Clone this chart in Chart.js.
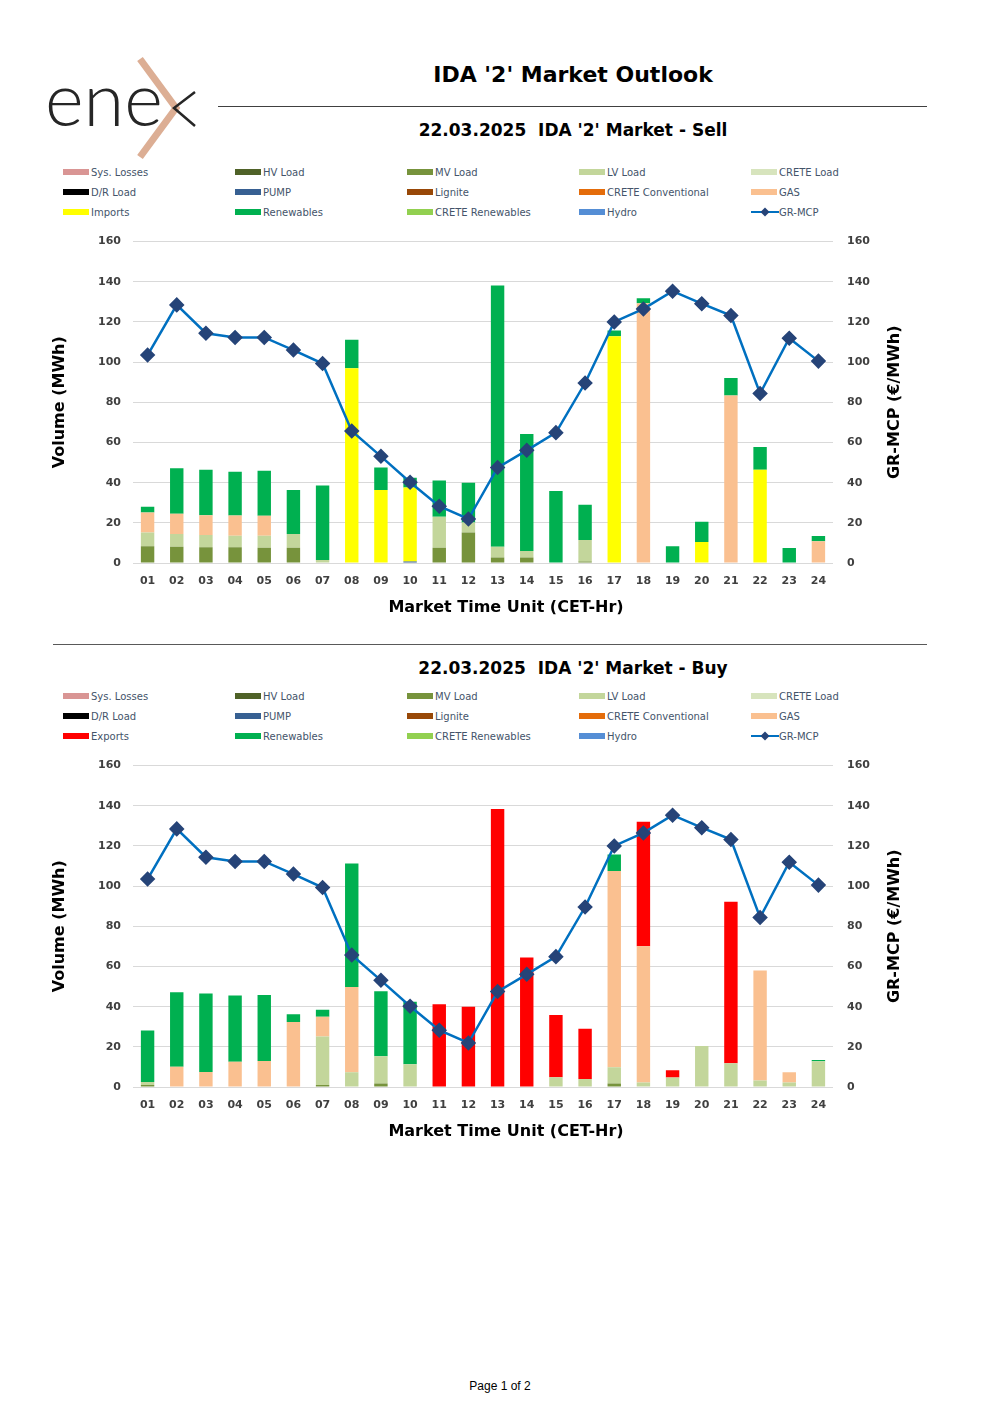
<!DOCTYPE html>
<html>
<head>
<meta charset="utf-8">
<script src="https://cdn.jsdelivr.net/npm/chart.js@4"></script>
<style>
  body { margin: 0; background: #fff; }
  #page { position: relative; width: 1000px; height: 1415px; background: #fff; overflow: hidden; font-family: "DejaVu Sans", sans-serif; }
  .abs { position: absolute; }
  .title { left: 218px; width: 710px; text-align: center; font-weight: bold; color: #000; }
  .rule { position: absolute; height: 0; }
  .legend { position: absolute; left: 0; width: 1000px; }
  .lg-item { position: absolute; height: 14px; line-height: 14px; font-size: 10px; color: #44546a; font-family: "DejaVu Sans", sans-serif; white-space: nowrap; }
  .lg-item span.sw { display: inline-block; width: 26px; height: 6px; vertical-align: middle; margin-right: 2px; position: relative; top: -1px; }
  canvas { position: absolute; left: 0; }
</style>
</head>
<body>
<div id="page">
  <svg class="abs" style="left:40px;top:50px" width="180" height="115">
    <text x="5" y="76" font-family="Lato" font-weight="300" font-size="74" fill="#262626">ene</text>
    <polyline points="100,9 136,58 100,107" fill="none" stroke="#dcae94" stroke-width="7" stroke-linejoin="miter"/>
    <polyline points="155,42 134,58 155,76" fill="none" stroke="#262626" stroke-width="2.5"/>
  </svg>

  <div class="abs title" style="top:62px;font-size:22px">IDA '2' Market Outlook</div>
  <div class="rule" style="left:218px;top:106px;width:709px;border-top:1px solid #404040"></div>
  <div class="abs title" style="top:120px;font-size:17px">22.03.2025&nbsp;&nbsp;IDA '2' Market - Sell</div>
  <div class="legend" id="legendSell" style="top:166px"></div>
  <canvas id="sellChart" style="top:221px" width="1000" height="400"></canvas>

  <div class="rule" style="left:53px;top:644px;width:874px;border-top:1.5px solid #595959"></div>
  <div class="abs title" style="top:658px;font-size:17px">22.03.2025&nbsp;&nbsp;IDA '2' Market - Buy</div>
  <div class="legend" id="legendBuy" style="top:690px"></div>
  <canvas id="buyChart" style="top:745px" width="1000" height="400"></canvas>

  <div class="abs" style="left:0;width:1000px;top:1379px;text-align:center;font-family:'Liberation Sans',Arial,sans-serif;font-size:12px;color:#000">Page 1 of 2</div>
</div>

<script>
// market time units
var hours = ['01','02','03','04','05','06','07','08','09','10','11','12','13','14','15','16','17','18','19','20','21','22','23','24'];

// GR-MCP (€/MWh), same for both charts
var mcp = [103.5, 128.5, 114.4, 112.3, 112.3, 106.0, 99.3, 65.7, 53.1, 40.2, 28.3, 21.9,
           47.5, 56.1, 64.9, 89.6, 120.0, 126.5, 135.3, 129.1, 123.2, 84.4, 111.9, 100.5];

var zeros = [0,0,0,0,0,0,0,0,0,0,0,0,0,0,0,0,0,0,0,0,0,0,0,0];

// Sell side (MWh)
var sellMV = [8.3, 8.1, 7.9, 7.9, 7.6, 7.6, 0, 0, 0, 0, 7.6, 15.2, 2.8, 2.8, 0, 0.7, 0, 0, 0, 0, 0, 0, 0, 0];
var sellLV = [6.9, 6.3, 6.0, 5.7, 6.0, 6.8, 1.5, 0, 0, 0, 15.4, 5.0, 5.3, 3.2, 0, 10.7, 0, 0, 0, 0, 0, 0, 0, 0];
var sellPump = [0, 0, 0, 0, 0, 0, 0, 0, 0, 0.8, 0, 0, 0, 0, 0, 0, 0, 0, 0, 0, 0, 0, 0, 0];
var sellGas = [10.0, 10.1, 9.9, 10.1, 9.9, 0, 0, 0, 0, 0, 0, 0, 0, 0, 0, 0, 0, 129.3, 0, 0, 83.4, 0, 0, 10.8];
var sellImports = [0, 0, 0, 0, 0, 0, 0, 97.0, 36.3, 36.8, 0, 0, 0, 0, 0, 0, 112.9, 0, 0, 10.4, 0, 46.4, 0, 0];
var sellRen = [2.8, 22.7, 22.6, 21.7, 22.4, 21.9, 37.1, 14.1, 11.2, 4.8, 18.1, 19.7,
               130.0, 58.2, 35.9, 17.6, 2.8, 2.5, 8.4, 10.1, 8.7, 11.4, 7.5, 2.6];

// Buy side (MWh)
var buyMV = [1.0, 0, 0, 0, 0, 0, 1.0, 0, 1.8, 0, 0, 0, 0, 0, 0, 0, 1.8, 0, 0, 0, 0, 0, 0, 0];
var buyLV = [1.5, 0, 0, 0, 0, 0, 24.2, 7.3, 13.5, 11.3, 0, 0, 0, 0, 4.8, 4.0, 8.0, 2.3, 4.7, 20.4, 11.8, 3.2, 2.3, 12.8];
var buyGas = [0, 10.1, 7.5, 12.6, 13.0, 32.4, 9.8, 42.5, 0, 0, 0, 0, 0, 0, 0, 0, 97.7, 67.8, 0, 0, 0, 54.8, 5.0, 0];
var buyExports = [0, 0, 0, 0, 0, 0, 0, 0, 0, 0, 41.2, 40.0, 138.4, 64.5, 31.1, 25.0, 0, 62.0, 3.6, 0, 80.4, 0, 0, 0];
var buyRen = [25.6, 37.1, 39.0, 32.9, 32.8, 3.8, 3.5, 61.5, 32.4, 31.1, 0, 0, 0, 0, 0, 0, 8.3, 0, 0, 0, 0, 0, 0, 0.7];

var COLORS = {
    'Sys. Losses': '#d99594',
    'HV Load': '#4f6228',
    'MV Load': '#77933c',
    'LV Load': '#c3d69b',
    'CRETE Load': '#d7e4bd',
    'D/R Load': '#000000',
    'PUMP': '#376092',
    'Lignite': '#984807',
    'CRETE Conventional': '#e46c0a',
    'GAS': '#fac090',
    'Imports': '#ffff00',
    'Exports': '#ff0000',
    'Renewables': '#00b050',
    'CRETE Renewables': '#92d050',
    'Hydro': '#558ed5'
};
var LINE_COLOR = '#0070c0';
var MARKER_COLOR = '#264478';

var sellSeries = [
    ['Sys. Losses', zeros], ['HV Load', zeros], ['MV Load', sellMV], ['LV Load', sellLV], ['CRETE Load', zeros],
    ['D/R Load', zeros], ['PUMP', sellPump], ['Lignite', zeros], ['CRETE Conventional', zeros], ['GAS', sellGas],
    ['Imports', sellImports], ['Renewables', sellRen], ['CRETE Renewables', zeros], ['Hydro', zeros]
];
var buySeries = [
    ['Sys. Losses', zeros], ['HV Load', zeros], ['MV Load', buyMV], ['LV Load', buyLV], ['CRETE Load', zeros],
    ['D/R Load', zeros], ['PUMP', zeros], ['Lignite', zeros], ['CRETE Conventional', zeros], ['GAS', buyGas],
    ['Exports', buyExports], ['Renewables', buyRen], ['CRETE Renewables', zeros], ['Hydro', zeros]
];

function buildLegend(el, series) {
    var colX = [63, 235, 407, 579, 751];
    var items = series.map(s => ({ name: s[0], color: COLORS[s[0]] }));
    items.push({ name: 'GR-MCP', line: true });
    items.forEach((it, i) => {
        var d = document.createElement('div');
        d.className = 'lg-item';
        d.style.left = colX[i % 5] + 'px';
        d.style.top = (Math.floor(i / 5) * 20) + 'px';
        if (it.line) {
            d.innerHTML = '<svg width="28" height="10" style="vertical-align:middle;position:relative;top:-1px">' +
                '<line x1="0" y1="5" x2="28" y2="5" stroke="' + LINE_COLOR + '" stroke-width="2"/>' +
                '<polygon points="14,0.5 18.5,5 14,9.5 9.5,5" fill="' + MARKER_COLOR + '"/></svg>' + it.name;
        } else {
            d.innerHTML = '<span class="sw" style="background:' + it.color + '"></span>' + it.name;
        }
        el.appendChild(d);
    });
}

// right axis title reads bottom-to-top, and the x title sits a bit right of the plot centre
var axisTitles = {
    id: 'axisTitles',
    afterDraw(chart) {
        var s = chart.scales.y1;
        var ctx = chart.ctx;
        ctx.save();
        ctx.fillStyle = '#000';
        ctx.font = 'bold 16px "DejaVu Sans"';
        ctx.textAlign = 'center';
        ctx.textBaseline = 'middle';
        ctx.fillText('Market Time Unit (CET-Hr)', 506, chart.chartArea.bottom + 45);
        ctx.translate(s.right - 14, (chart.chartArea.top + chart.chartArea.bottom) / 2);
        ctx.rotate(-Math.PI / 2);
        ctx.fillText('GR-MCP (€/MWh)', 0, 0);
        ctx.restore();
    }
};

function createChart(canvas, series) {
    var datasets = series.map(s => ({
        type: 'bar',
        label: s[0],
        data: s[1],
        backgroundColor: COLORS[s[0]],
        borderWidth: 0,
        stack: 'vol',
        yAxisID: 'y',
        order: 1,
        categoryPercentage: 1,
        barPercentage: 0.46
    }));
    datasets.push({
        type: 'line',
        label: 'GR-MCP',
        data: mcp,
        borderColor: LINE_COLOR,
        borderWidth: 2.5,
        pointStyle: 'rectRot',
        pointRadius: 6,
        pointBackgroundColor: MARKER_COLOR,
        pointBorderColor: MARKER_COLOR,
        tension: 0,
        yAxisID: 'y1',
        order: 0
    });
    var tickFont = { family: 'DejaVu Sans', size: 11, weight: 'bold' };
    return new Chart(canvas.getContext('2d'), {
        data: { labels: hours, datasets: datasets },
        options: {
            responsive: false,
            animation: false,
            events: [],
            layout: { padding: { left: 46, right: 91, top: 1, bottom: 0 } },
            plugins: { legend: { display: false }, tooltip: { enabled: false } },
            scales: {
                x: {
                    stacked: true,
                    grid: { display: false },
                    border: { display: false },
                    ticks: { color: '#404040', font: tickFont, padding: 4, maxRotation: 0 },
                    afterFit: s => { s.height = 58; }
                },
                y: {
                    stacked: true, min: 0, max: 160,
                    grid: { color: '#d9d9d9', lineWidth: 1, drawTicks: false },
                    border: { display: false },
                    ticks: { stepSize: 20, color: '#404040', font: tickFont, padding: 12 },
                    title: { display: true, text: 'Volume (MWh)', color: '#000',
                             font: { family: 'DejaVu Sans', size: 16, weight: 'bold' }, padding: 4 },
                    afterFit: s => { s.width = 87; }
                },
                y1: {
                    position: 'right', min: 0, max: 160,
                    grid: { display: false, drawTicks: false },
                    border: { display: false },
                    ticks: { stepSize: 20, color: '#404040', font: tickFont, padding: 14 },
                    afterFit: s => { s.width = 76; }
                }
            }
        },
        plugins: [axisTitles]
    });
}

buildLegend(document.getElementById('legendSell'), sellSeries);
buildLegend(document.getElementById('legendBuy'), buySeries);
var sellChart = createChart(document.getElementById('sellChart'), sellSeries);
var buyChart = createChart(document.getElementById('buyChart'), buySeries);
</script>
</body>
</html>
